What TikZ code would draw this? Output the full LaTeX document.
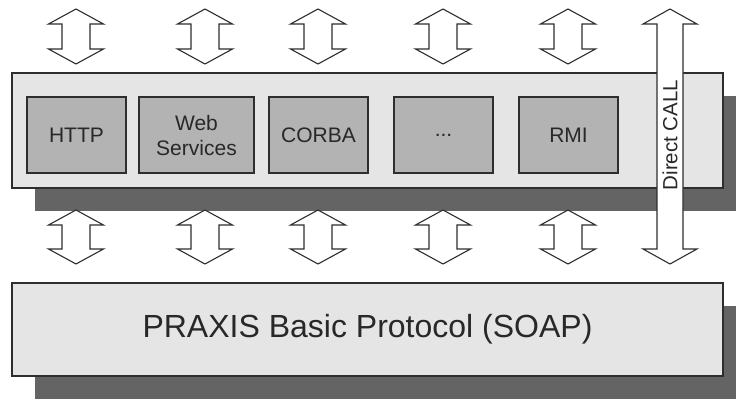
\documentclass[tikz,border=0pt]{standalone}
\usepackage{fontspec}
\setmainfont{Liberation Sans}
\usetikzlibrary{shadows}
\definecolor{layerfill}{HTML}{E5E5E5}
\definecolor{protofill}{HTML}{B3B3B3}
\definecolor{shadowgray}{HTML}{646464}
\definecolor{edgegray}{HTML}{2E2E2E}
\definecolor{textgray}{HTML}{282828}
\tikzset{
  layer/.style={draw=edgegray, line width=1.2pt, fill=layerfill, inner sep=0pt,
    general shadow={fill=shadowgray, shadow xshift=23pt, shadow yshift=-23pt}},
  proto/.style={draw=edgegray, line width=1.1pt, fill=protofill, inner sep=0pt,
    minimum height=76pt, text=textgray, font=\fontsize{21}{25}\selectfont, align=center},
  arrowshape/.style={draw=edgegray, line width=1.1pt, fill=white, line join=miter},
  lbl/.style={text=textgray, inner sep=0pt}
}
% double-headed block arrow: x centre, top tip, bottom tip, shaft half width, head half width
\newcommand{\dualarrow}[5]{%
  \draw[arrowshape] (#1,#2) -- ({#1+#5},{#2+15}) -- ({#1+#4},{#2+15}) -- ({#1+#4},{#3-15})
    -- ({#1+#5},{#3-15}) -- (#1,#3) -- ({#1-#5},{#3-15}) -- ({#1-#4},{#3-15})
    -- ({#1-#4},{#2+15}) -- ({#1-#5},{#2+15}) -- cycle;}
\begin{document}
\begin{tikzpicture}[x=1pt,y=-1pt]
\useasboundingbox (0,0) rectangle (736,401);
\clip (0,0) rectangle (736,401);

% transport layer with protocol adapters
\node[layer, minimum width=711pt, minimum height=115pt] (transport) at (367.5,130.5) {};
\node[proto, minimum width=99pt]  (http)  at (76.5,135)  {HTTP};
\node[proto, minimum width=115pt] (ws)    at (196.5,135) {Web\\Services};
\node[proto, minimum width=99pt]  (corba) at (318.5,135) {CORBA};
\node[proto, minimum width=99pt]  (more)  at (443.5,135) {...};
\node[proto, minimum width=99pt]  (rmi)   at (568.5,135) {RMI};

% basic protocol layer
\node[layer, minimum width=711pt, minimum height=93pt, text=textgray,
      font=\fontsize{32}{38}\selectfont] (basic) at (367.5,329.5) {PRAXIS Basic Protocol (SOAP)};

% arrows above the transport layer
\dualarrow{76}{9}{64}{14}{27.5}
\dualarrow{205}{9}{64}{14}{27.5}
\dualarrow{318}{9}{64}{14}{27.5}
\dualarrow{443}{9}{64}{14}{27.5}
\dualarrow{568}{9}{64}{14}{27.5}

% arrows between the two layers
\dualarrow{76}{210}{264}{14}{27.5}
\dualarrow{205}{210}{264}{14}{27.5}
\dualarrow{318}{210}{264}{14}{27.5}
\dualarrow{443}{210}{264}{14}{27.5}
\dualarrow{568}{210}{264}{14}{27.5}

% direct call bypassing the transport layer
\dualarrow{670}{9}{264}{13}{27}
\node[lbl, rotate=90, font=\fontsize{20.5}{24}\selectfont] (direct) at (670,135) {Direct CALL};
\end{tikzpicture}
\end{document}
